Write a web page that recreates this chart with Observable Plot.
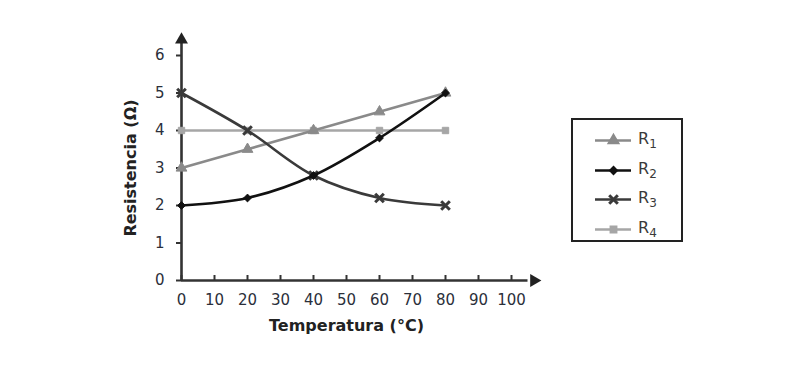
<!DOCTYPE html>
<html><head><meta charset="utf-8">
<script src="https://cdn.jsdelivr.net/npm/d3@7"></script>
<script src="https://cdn.jsdelivr.net/npm/@observablehq/plot@0.6"></script>
<style>
body{margin:0;background:#fff;font-family:"DejaVu Sans",Verdana,sans-serif;}
#wrap{position:relative;width:800px;height:383px;}
#legend{position:absolute;left:571px;top:118px;width:108px;height:120px;border:2px solid #222;box-sizing:content-box;}
.item{position:absolute;left:22px;display:flex;align-items:center;font-size:16px;color:#3a3a3a;}
.item span{margin-left:7px;}
.item sub{font-size:12px;vertical-align:-4px;}
</style></head>
<body><div id="wrap"><div id="chart"></div><div id="legend"></div></div>
<script>
const temps = [0, 20, 40, 60, 80];
const R1 = [3, 3.5, 4, 4.5, 5];
const R2 = [2, 2.2, 2.8, 3.8, 5];
const R3 = [5, 4, 2.8, 2.2, 2];
const R4 = [4, 4, 4, 4, 4];
const xTicks = [0,10,20,30,40,50,60,70,80,90,100];
const yTicks = [0,1,2,3,4,5,6];

const series = [
  {name:"R4", sub:"4", values:R4, color:"#a6a6a6", symbol:"square", r:3.6, curve:"linear"},
  {name:"R1", sub:"1", values:R1, color:"#8a8a8a", symbol:"triangle", r:4, curve:"linear"},
  {name:"R3", sub:"3", values:R3, color:"#3a3a3a", symbol:"times", r:4, curve:"catmull-rom"},
  {name:"R2", sub:"2", values:R2, color:"#111111", symbol:"diamond2", r:3.5, curve:"catmull-rom"}
];
const legendOrder = ["R1","R2","R3","R4"];

const marks = [];
for (const s of series) {
  const data = temps.map((t,i)=>({t, v:s.values[i]}));
  marks.push(Plot.line(data,{x:"t",y:"v",stroke:s.color,strokeWidth:2.6,curve:s.curve}));
  if (s.symbol === "times") {
    marks.push(Plot.dot(data,{x:"t",y:"v",stroke:s.color,strokeWidth:3,symbol:"times",r:s.r}));
  } else {
    marks.push(Plot.dot(data,{x:"t",y:"v",fill:s.color,stroke:s.color,strokeWidth:1,symbol:s.symbol,r:s.r}));
  }
}

const chart = Plot.plot({
  width: 800, height: 383,
  marginLeft: 181, marginRight: 289, marginTop: 55, marginBottom: 103,
  style: {fontFamily:"DejaVu Sans, Verdana, sans-serif", fontSize:"15px", color:"#2b2f3a", background:"#fff"},
  x: {domain:[0,100]},
  y: {domain:[0,6]},
  marks: [
    Plot.axisX({ticks:xTicks, tickFormat:"d", tickSize:0, tickPadding:14, fontSize:15, label:"Temperatura (°C)", labelAnchor:"center", labelArrow:false, labelOffset:50}),
    Plot.axisX({ticks:xTicks, tickSize:-5, text:null, label:null, stroke:"#333", strokeWidth:2}),
    Plot.axisY({ticks:yTicks, tickFormat:"d", tickSize:5, tickPadding:12, stroke:"#333", strokeWidth:2, fontSize:15, label:"Resistencia (Ω)", labelAnchor:"center", labelArrow:false, labelOffset:57}),
    Plot.ruleY([0],{x1:0,x2:105,stroke:"#333",strokeWidth:2.6}),
    Plot.ruleX([0],{y1:0,y2:6.35,stroke:"#333",strokeWidth:2.6}),
    Plot.dot([{x:106.8,y:0}],{x:"x",y:"y",symbol:"triangle",rotate:90,r:4.8,fill:"#222"}),
    Plot.dot([{x:0,y:6.42}],{x:"x",y:"y",symbol:"triangle",r:4.8,fill:"#222"}),
    ...marks
  ]
});
document.getElementById("chart").appendChild(chart);
chart.querySelectorAll("g[aria-label='x-axis label'] text, g[aria-label='y-axis label'] text").forEach(t=>{t.setAttribute("font-weight","bold");t.setAttribute("font-size","16");t.setAttribute("fill","#222");});

const legend = document.getElementById("legend");
const tops = [9, 39, 68, 98];
legendOrder.forEach((n,i)=>{
  const s = series.find(d=>d.name===n);
  const div = document.createElement("div");
  div.className="item"; div.style.top = tops[i]+"px";
  const sw = Plot.plot({width:36,height:18,margin:0,axis:null,x:{domain:[0,2]},y:{domain:[0,1]},
    marks:[
      Plot.line([{x:0,y:0.5},{x:2,y:0.5}],{x:"x",y:"y",stroke:s.color,strokeWidth:2.6}),
      s.symbol==="times"
        ? Plot.dot([{x:1,y:0.5}],{x:"x",y:"y",symbol:"times",stroke:s.color,strokeWidth:3,r:s.r})
        : Plot.dot([{x:1,y:0.5}],{x:"x",y:"y",symbol:s.symbol,fill:s.color,stroke:s.color,r:s.r})
    ]});
  div.appendChild(sw);
  const lab = document.createElement("span");
  lab.innerHTML = "R<sub>"+s.sub+"</sub>";
  div.appendChild(lab);
  legend.appendChild(div);
});
</script></body></html>
